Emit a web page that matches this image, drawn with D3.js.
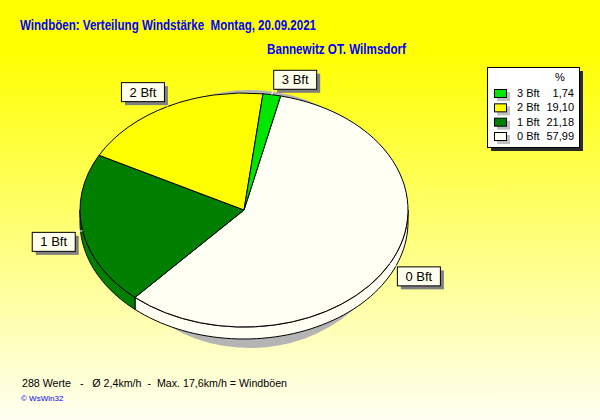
<!DOCTYPE html>
<html><head><meta charset="utf-8">
<script src="https://cdn.jsdelivr.net/npm/d3@7"></script>
<style>html,body{margin:0;padding:0;overflow:hidden;background:#fff}</style>
</head><body>
<svg id="c" width="600" height="420"></svg>
<script>
const categories = ["0 Bft", "1 Bft", "2 Bft", "3 Bft"];
const values = [57.99, 21.18, 19.10, 1.74];
const legendOrder = ["3 Bft", "2 Bft", "1 Bft", "0 Bft"];
const titleText = "Windböen: Verteilung Windstärke  Montag, 20.09.2021";
const subtitleText = "Bannewitz OT. Wilmsdorf";
const footerText = "288 Werte   -   Ø 2,4km/h  -  Max. 17,6km/h = Windböen";
const creditText = "© WsWin32";

const sliceColors = ["#fffff4", "#007f00", "#ffff00", "#00e600"];

const svg = d3.select("#c");
const defs = svg.append("defs");
const grad = defs.append("linearGradient").attr("id","bg").attr("x1",0).attr("y1",0).attr("x2",0).attr("y2",1);
grad.append("stop").attr("offset","0").attr("stop-color","#ffff00");
grad.append("stop").attr("offset","0.12").attr("stop-color","#ffff00");
grad.append("stop").attr("offset","1").attr("stop-color","#fffff2");
svg.append("rect").attr("width",600).attr("height",420).attr("fill","url(#bg)");

const font = "'Liberation Sans', Arial, sans-serif";

svg.append("text").attr("x",20).attr("y",30).attr("fill","#0000ff")
  .attr("font-family",font).attr("font-weight","bold").attr("font-size",14)
  .attr("textLength",296).attr("lengthAdjust","spacingAndGlyphs")
  .style("white-space","pre").text(titleText);
svg.append("text").attr("x",267).attr("y",54).attr("fill","#0000ff")
  .attr("font-family",font).attr("font-weight","bold").attr("font-size",14)
  .attr("textLength",139).attr("lengthAdjust","spacingAndGlyphs")
  .style("white-space","pre").text(subtitleText);

// pie geometry
const cx = 244, cy = 210, rx = 164, ry = 117, depth = 12;
const color = d3.scaleOrdinal().domain(categories).range(sliceColors);
const start = 12.9 * Math.PI / 180;
const pie = d3.pie().sort(null).value(d => d.v).startAngle(start).endAngle(start + 2*Math.PI);
const data = pie(categories.map((c,i) => ({c, v: values[i]})));

const ex = (a, dy=0, r=1) => [cx + rx*r*Math.sin(a), cy + dy - ry*r*Math.cos(a)];

// shadow
svg.append("ellipse").attr("cx",cx+6).attr("cy",cy+9).attr("rx",rx-19).attr("ry",ry+12).attr("fill","#b4b4b4");

// side faces (front half)
const line = d3.line();
const g = svg.append("g");
data.forEach(d => {
  let a0 = d.startAngle, a1 = d.endAngle;
  for (let k = -1; k <= 1; k++) {
    const lo = Math.max(a0, Math.PI/2 + k*2*Math.PI);
    const hi = Math.min(a1, 3*Math.PI/2 + k*2*Math.PI);
    if (hi > lo) {
      const n = 60;
      const ts = d3.range(n+1).map(i => lo + (hi-lo)*i/n);
      const pts = ts.map(t => ex(t)).concat(ts.slice().reverse().map(t => ex(t, depth)));
      g.append("path").attr("d", line(pts) + "Z").attr("fill", color(d.data.c))
        .attr("stroke","#000").attr("stroke-width",1).attr("stroke-linejoin","round");
    }
  }
});

// top faces
const arc = d3.arc().innerRadius(0).outerRadius(rx);
svg.append("g").attr("transform",`translate(${cx},${cy}) scale(1,${ry/rx})`)
  .selectAll("path").data(data).join("path")
  .attr("d", arc).attr("fill", d => color(d.data.c))
  .attr("stroke","#000").attr("stroke-width",1).attr("vector-effect","non-scaling-stroke");

// labels
const bw = 43, bh = 19;
data.forEach(d => {
  const m = (d.startAngle + d.endAngle)/2;
  const p0 = ex(m);
  const ax = cx + (rx+8)*Math.sin(m), ay = cy - (ry+6)*Math.cos(m);
  const bx = Math.sin(m) >= 0 ? ax : ax - bw;
  const by = Math.cos(m) >= 0 ? ay - bh : ay;
  svg.append("line").attr("x1",p0[0]).attr("y1",p0[1]).attr("x2",ax).attr("y2",ay)
    .attr("stroke","#fff").attr("stroke-width",1);
  svg.append("rect").attr("x",bx+4).attr("y",by+4).attr("width",bw).attr("height",bh).attr("fill","#808080");
  svg.append("rect").attr("x",bx+0.5).attr("y",by+0.5).attr("width",bw).attr("height",bh)
    .attr("fill","#ffffee").attr("stroke","#000");
  svg.append("text").attr("x",bx+bw/2+0.5).attr("y",by+bh/2+5).attr("text-anchor","middle")
    .attr("font-family",font).attr("font-size",13).attr("fill","#000").text(d.data.c);
});

// legend
const lx = 487, ly = 67, lw = 92, lh = 80;
svg.append("rect").attr("x",lx+4).attr("y",ly+4).attr("width",lw).attr("height",lh).attr("fill","#2a2a2a");
svg.append("rect").attr("x",lx+0.5).attr("y",ly+0.5).attr("width",lw).attr("height",lh).attr("fill","#fff").attr("stroke","#000");
svg.append("text").attr("x",560).attr("y",81).attr("text-anchor","middle")
  .attr("font-family",font).attr("font-size",11).text("%");
const rowY = d3.scalePoint().domain(legendOrder).range([93, 136]);
const fmt = v => d3.format(".2f")(v).replace(".", ",");
legendOrder.forEach(c => {
  const y = rowY(c), v = values[categories.indexOf(c)];
  svg.append("rect").attr("x",497).attr("y",y-1).attr("width",13).attr("height",9).attr("fill","#c0c0c0");
  svg.append("rect").attr("x",494.5).attr("y",y-3.5).attr("width",12).attr("height",8)
    .attr("fill",color(c)).attr("stroke","#000");
  svg.append("text").attr("x",517).attr("y",y+4).attr("font-family",font).attr("font-size",11).text(c);
  svg.append("text").attr("x",574).attr("y",y+4).attr("text-anchor","end").attr("font-family",font).attr("font-size",11).text(fmt(v));
});

// footer
svg.append("text").attr("x",22).attr("y",387).attr("font-family",font).attr("font-size",11)
  .attr("textLength",265).attr("lengthAdjust","spacingAndGlyphs")
  .attr("fill","#000").style("white-space","pre").text(footerText);
svg.append("text").attr("x",21).attr("y",401).attr("font-family",font).attr("font-size",8)
  .attr("fill","#0000ff").text(creditText);
</script>
</body></html>
